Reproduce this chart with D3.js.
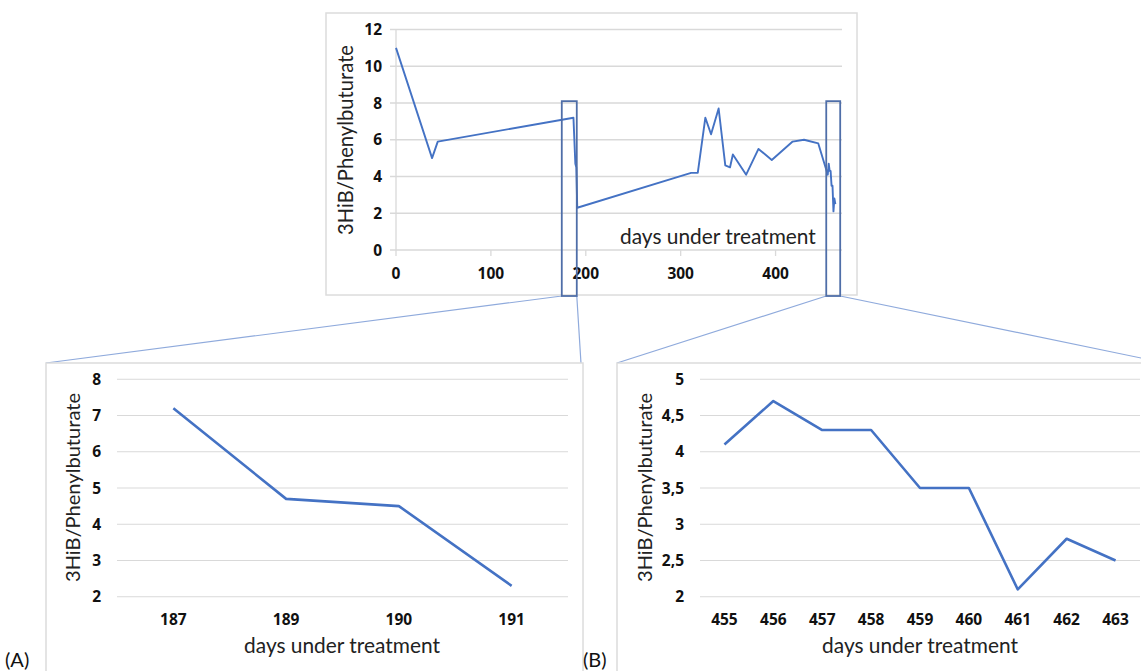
<!DOCTYPE html>
<html><head><meta charset="utf-8">
<script src="https://cdn.jsdelivr.net/npm/d3@7"></script>
<style>
body{margin:0;background:#fff}
svg{display:block}
text{font-family:Lato,"Open Sans",sans-serif}
text.tick{font-family:"Open Sans",Lato,sans-serif;font-weight:700}
</style>
</head><body>
<svg id="c" width="1141" height="671"></svg>
<script>
// ---------------- data ----------------
const overviewDays   = [0, 38, 44, 187, 189, 190, 191, 311, 318, 326, 332, 340, 347, 352, 355, 369, 382, 396, 418, 430, 445, 455, 456, 457, 458, 459, 460, 461, 462, 463];
const overviewValues = [11, 5.0, 5.9, 7.2, 4.7, 4.5, 2.3, 4.2, 4.2, 7.2, 6.3, 7.7, 4.6, 4.5, 5.2, 4.1, 5.5, 4.9, 5.9, 6.0, 5.8, 4.1, 4.7, 4.3, 4.3, 3.5, 3.5, 2.1, 2.8, 2.5];
const overviewXTicks = [0, 100, 200, 300, 400];
const overviewYTicks = [0, 2, 4, 6, 8, 10, 12];
const zoomRanges     = [[174.7, 190.5], [453.4, 468.1]];
const zoomTopValue   = 8.1;

const panelADays   = ["187", "189", "190", "191"];
const panelAValues = [7.2, 4.7, 4.5, 2.3];
const panelAYTicks = [2, 3, 4, 5, 6, 7, 8];

const panelBDays   = ["455", "456", "457", "458", "459", "460", "461", "462", "463"];
const panelBValues = [4.1, 4.7, 4.3, 4.3, 3.5, 3.5, 2.1, 2.8, 2.5];
const panelBYTicks = [2, 2.5, 3, 3.5, 4, 4.5, 5];

const yTitle = "3HiB/Phenylbuturate";
const xTitle = "days under treatment";
const panelLabels = ["(A)", "(B)"];

// ---------------- styles ----------------
const BLUE = "#4472c4", GRID = "#d9d9d9", FRAME = "#dcdcdc", CONN = "#8faadc", BOX = "#4f6ea8";
const svg = d3.select("#c");
const commaFmt = d3.formatLocale({decimal: ",", thousands: ".", grouping: [3], currency: ["", ""]}).format("~g");

function fitText(sel, width) {
  const node = sel.node();
  const fs = parseFloat(sel.attr("font-size"));
  const len = node.getComputedTextLength();
  if (len > 0) sel.attr("font-size", (fs * width / len).toFixed(2));
  return sel;
}

// ---------------- connectors (behind panels) ----------------
const xTop = d3.scaleLinear().domain([0, 470]).range([396, 842]);
const yTop = d3.scaleLinear().domain([0, 12]).range([250, 29.5]);
const boxBottom = 296;
const conn = [
  [xTop(zoomRanges[0][0]), boxBottom, 46, 363],
  [xTop(zoomRanges[0][1]), boxBottom, 581, 363],
  [xTop(zoomRanges[1][0]), boxBottom, 617, 363],
  [xTop(zoomRanges[1][1]), boxBottom, 1175, 365]
];
svg.append("g").selectAll("line").data(conn).join("line")
  .attr("x1", d => d[0]).attr("y1", d => d[1]).attr("x2", d => d[2]).attr("y2", d => d[3])
  .attr("stroke", CONN).attr("stroke-width", 1.2);

// ---------------- overview chart ----------------
const gTop = svg.append("g");
gTop.append("rect").attr("x", 326).attr("y", 13).attr("width", 531).attr("height", 282)
  .attr("fill", "#fff").attr("stroke", FRAME).attr("stroke-width", 1.5);

gTop.append("g").selectAll("line").data(overviewYTicks).join("line")
  .attr("x1", 390).attr("x2", xTop.range()[1])
  .attr("y1", d => yTop(d)).attr("y2", d => yTop(d))
  .attr("stroke", GRID).attr("stroke-width", 1.3);
gTop.append("line").attr("x1", xTop(0)).attr("x2", xTop(0))
  .attr("y1", yTop(12)).attr("y2", yTop(0)).attr("stroke", GRID).attr("stroke-width", 1.3);
gTop.append("g").selectAll("line").data(overviewXTicks).join("line")
  .attr("x1", d => xTop(d)).attr("x2", d => xTop(d))
  .attr("y1", yTop(0)).attr("y2", yTop(0) + 6)
  .attr("stroke", GRID).attr("stroke-width", 1.3);
gTop.append("g").selectAll("text").data(overviewYTicks).join("text").attr("class", "tick")
  .attr("x", 382).attr("y", d => yTop(d)).attr("dy", "0.36em")
  .attr("text-anchor", "end").attr("font-size", 15.5).attr("fill", "#111")
  .text(d => d);
gTop.append("g").selectAll("text").data(overviewXTicks).join("text").attr("class", "tick")
  .attr("x", d => xTop(d)).attr("y", 273).attr("dy", "0.36em")
  .attr("text-anchor", "middle").attr("font-size", 15.5).attr("fill", "#111")
  .text(d => d);
fitText(gTop.append("text").attr("transform", "translate(353,140) rotate(-90)")
  .attr("text-anchor", "middle").attr("font-size", 19).attr("fill", "#222").text(yTitle), 190);
fitText(gTop.append("text").attr("x", 620).attr("y", 244)
  .attr("font-size", 19).attr("fill", "#222").text(xTitle), 196);
const topLine = d3.line().x(d => xTop(d[0])).y(d => yTop(d[1]));
gTop.append("path").datum(d3.zip(overviewDays, overviewValues))
  .attr("d", topLine).attr("fill", "none").attr("stroke", BLUE)
  .attr("stroke-width", 1.9).attr("stroke-linejoin", "round");
gTop.append("g").selectAll("rect").data(zoomRanges).join("rect")
  .attr("x", d => xTop(d[0])).attr("width", d => xTop(d[1]) - xTop(d[0]))
  .attr("y", yTop(zoomTopValue)).attr("height", boxBottom - yTop(zoomTopValue))
  .attr("fill", "none").attr("stroke", BOX).attr("stroke-width", 1.8);

// ---------------- detail panels ----------------
function panel(cfg) {
  const g = svg.append("g");
  g.append("rect").attr("x", cfg.frame[0]).attr("y", cfg.frame[1])
    .attr("width", cfg.frame[2]).attr("height", cfg.frame[3])
    .attr("fill", "#fff").attr("stroke", FRAME).attr("stroke-width", 1.5);
  const x = d3.scalePoint().domain(cfg.days).range(cfg.xr).padding(0.5);
  const y = d3.scaleLinear().domain(d3.extent(cfg.ticks)).range([596.7, 379.3]);
  g.append("g").selectAll("line").data(cfg.ticks).join("line")
    .attr("x1", cfg.xr[0]).attr("x2", cfg.xr[1])
    .attr("y1", d => y(d)).attr("y2", d => y(d))
    .attr("stroke", GRID).attr("stroke-width", 1.1);
  g.append("g").selectAll("text").data(cfg.ticks).join("text").attr("class", "tick")
    .attr("x", cfg.xr[0] - 16).attr("y", d => y(d)).attr("dy", "0.36em")
    .attr("text-anchor", "end").attr("font-size", 15.5).attr("fill", "#111")
    .text(cfg.fmt);
  g.append("g").selectAll("text").data(cfg.days).join("text").attr("class", "tick")
    .attr("x", d => x(d)).attr("y", 619.5).attr("dy", "0.36em")
    .attr("text-anchor", "middle").attr("font-size", 15.5).attr("fill", "#111")
    .text(d => d);
  fitText(g.append("text").attr("transform", `translate(${cfg.ytx},487.5) rotate(-90)`)
    .attr("text-anchor", "middle").attr("font-size", 19).attr("fill", "#222").text(yTitle), 189);
  fitText(g.append("text").attr("x", cfg.xtx).attr("y", 653)
    .attr("text-anchor", "middle").attr("font-size", 19).attr("fill", "#222").text(xTitle), 196);
  const ln = d3.line().x(d => x(d[0])).y(d => y(d[1]));
  g.append("path").datum(d3.zip(cfg.days, cfg.values)).attr("d", ln)
    .attr("fill", "none").attr("stroke", BLUE).attr("stroke-width", 2.6).attr("stroke-linejoin", "round");
  g.append("text").attr("x", cfg.lab[0]).attr("y", cfg.lab[1])
    .attr("font-family", "'Liberation Sans',Arial,sans-serif").attr("font-size", 20).attr("fill", "#111")
    .text(cfg.label);
}

panel({frame: [46, 363, 537, 330], xr: [117, 568], days: panelADays, values: panelAValues,
       ticks: panelAYTicks, fmt: d => d, ytx: 80, xtx: 342, lab: [5, 667], label: panelLabels[0]});
panel({frame: [617, 363, 560, 330], xr: [700, 1140], days: panelBDays, values: panelBValues,
       ticks: panelBYTicks, fmt: d => commaFmt(d), ytx: 652, xtx: 920, lab: [583, 667], label: panelLabels[1]});
</script>
</body></html>
